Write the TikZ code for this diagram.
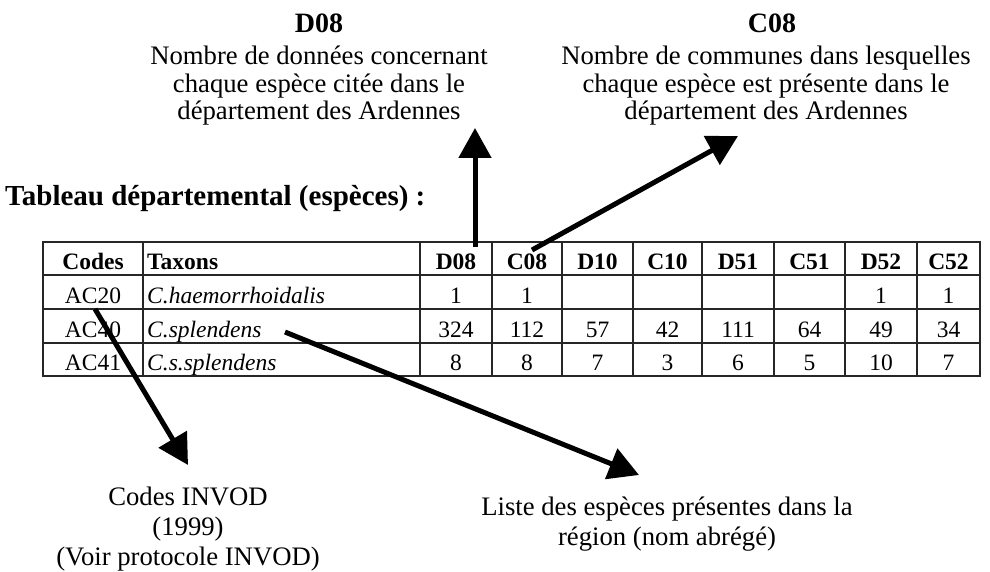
\documentclass[tikz,border=0pt]{standalone}
\usepackage{fontspec}
\setmainfont{Liberation Serif}
\usetikzlibrary{arrows.meta}
\begin{document}
\begin{tikzpicture}[x=1pt,y=-1pt,
  txt/.style={font=\fontsize{26.7}{28}\selectfont, inner sep=0pt, anchor=base},
  head/.style={font=\fontsize{28}{30}\selectfont\bfseries, inner sep=0pt, anchor=base},
  ttl/.style={font=\fontsize{29}{31}\selectfont\bfseries, inner sep=0pt, anchor=base west},
  cell/.style={font=\fontsize{23.5}{25}\selectfont, inner sep=0pt, anchor=base},
  hcell/.style={cell, font=\fontsize{23.5}{25}\selectfont\bfseries},
  tline/.style={line width=1.4pt, black!85},
  bigarrow/.style={line width=5pt, -{Triangle[length=30pt,width=32pt]}}]
\useasboundingbox (0,0) rectangle (990,572);

% top texts
\node[head] (d08h) at (319,33) {D08};
\node[txt] (d08a) at (319,65) {Nombre de données concernant};
\node[txt] (d08b) at (319,92.5) {chaque espèce citée dans le};
\node[txt] (d08c) at (319,120) {département des Ardennes};

\node[head] (c08h) at (772,33) {C08};
\node[txt] (c08a) at (766,65) {Nombre de communes dans lesquelles};
\node[txt] (c08b) at (766,92.5) {chaque espèce est présente dans le};
\node[txt] (c08c) at (766,120) {département des Ardennes};

% title
\node[ttl] (title) at (5,205) {Tableau départemental (espèces) :};

% table grid
\draw[tline] (43,242) rectangle (980,376);
\foreach \y in {275,309,343} \draw[tline] (43,\y) -- (980,\y);
\foreach \x in {143,420,492,562,633,702,774,845,917} \draw[tline] (\x,242) -- (\x,376);

% header
\node[hcell] (hcodes) at (93,269) {Codes};
\node[hcell, anchor=base west] (htax) at (147,269) {Taxons};
\foreach \n/\x in {D08/456,C08/527,D10/597.5,C10/667.5,D51/738,C51/809.5,D52/881,C52/948.5}
  \node[hcell] (h\n) at (\x,269) {\n};

% rows
\node[cell] (r1code) at (93,303) {AC20};
\node[cell] (r2code) at (93,337) {AC40};
\node[cell] (r3code) at (93,370) {AC41};
\node[cell, anchor=base west, font=\fontsize{23.5}{25}\selectfont\itshape] (r1tax) at (147,303) {C.haemorrhoidalis};
\node[cell, anchor=base west, font=\fontsize{23.5}{25}\selectfont\itshape] (r2tax) at (147,337) {C.splendens};
\node[cell, anchor=base west, font=\fontsize{23.5}{25}\selectfont\itshape] (r3tax) at (147,370) {C.s.splendens};

\foreach \v/\x [count=\i] in {1/456,1/527,{}/597.5,{}/667.5,{}/738,{}/809.5,1/881,1/948.5}
  \node[cell] (a\i) at (\x,303) {\v};
\foreach \v/\x [count=\i] in {324/456,112/527,57/597.5,42/667.5,111/738,64/809.5,49/881,34/948.5}
  \node[cell] (b\i) at (\x,337) {\v};
\foreach \v/\x [count=\i] in {8/456,8/527,7/597.5,3/667.5,6/738,5/809.5,10/881,7/948.5}
  \node[cell] (c\i) at (\x,370) {\v};

% bottom texts
\node[txt] (codA) at (188,505) {Codes INVOD};
\node[txt] (codB) at (188,535) {(1999)};
\node[txt] (codC) at (188,565) {(Voir protocole INVOD)};
\node[txt] (lisA) at (667,515) {Liste des espèces présentes dans la};
\node[txt] (lisB) at (667,545) {région (nom abrégé)};

% arrow coordinates
\coordinate (s1) at (475,247);
\coordinate (t1) at (475,128);
\coordinate (s2) at (532,250);
\coordinate (t2) at (738,136);
\coordinate (s3) at (95,309);
\coordinate (t3) at (188,465);
\coordinate (s4) at (285,332);
\coordinate (t4) at (639,475);

\draw[bigarrow] (s1) -- (t1);
\draw[bigarrow] (s2) -- (t2);
\draw[bigarrow] (s3) -- (t3);
\draw[bigarrow] (s4) -- (t4);
\end{tikzpicture}
\end{document}
